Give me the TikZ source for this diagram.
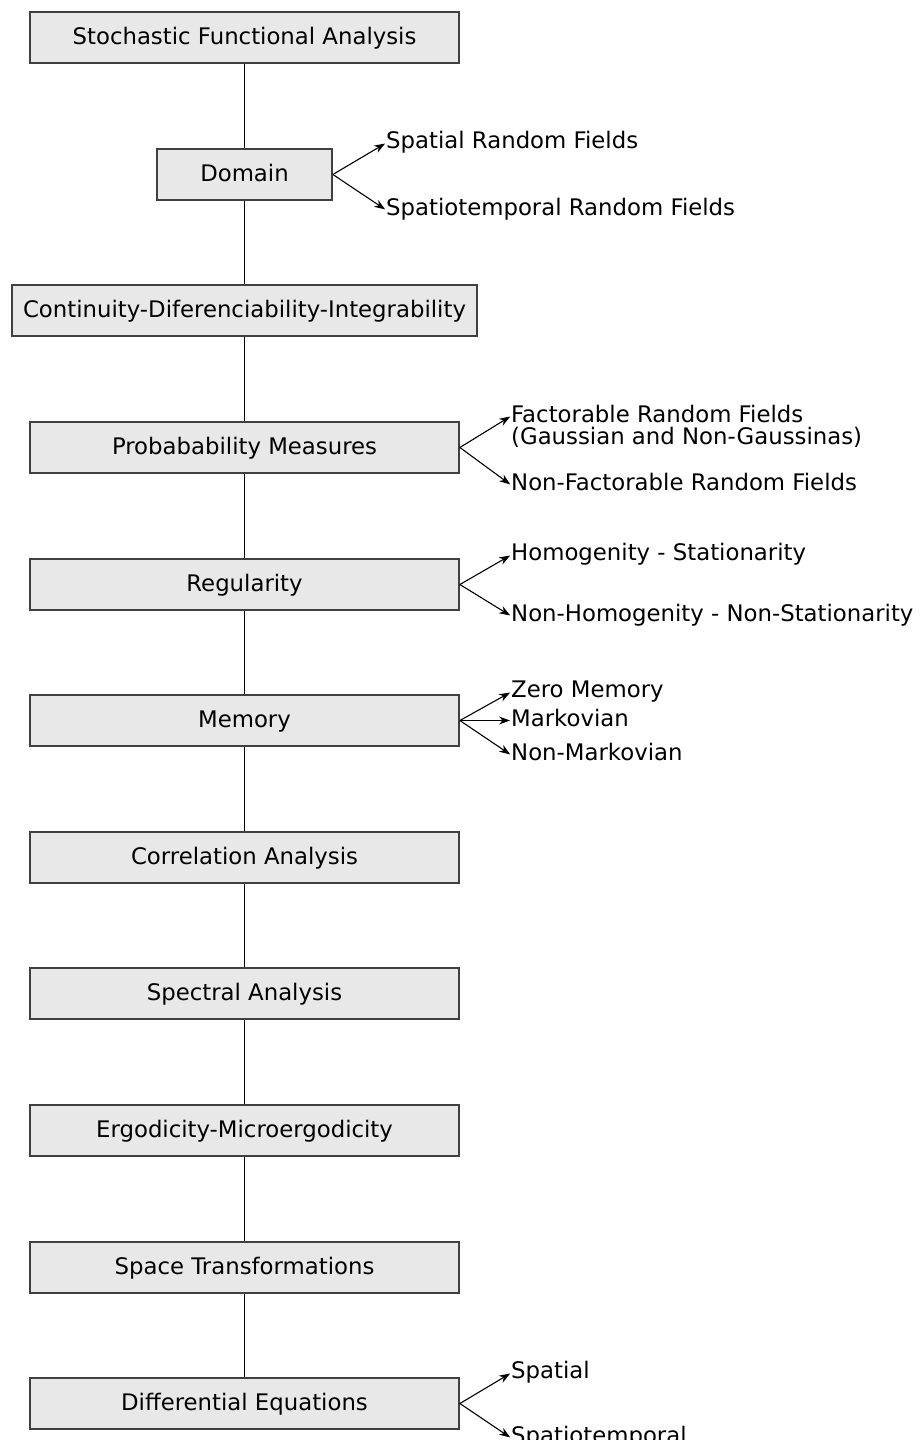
\documentclass[tikz,border=0pt]{standalone}
\usepackage{fontspec}
\setmainfont{DejaVu Sans}
\usetikzlibrary{arrows.meta,calc}
\begin{document}
\begin{tikzpicture}[x=1pt,y=-1pt,
  every node/.style={font=\fontsize{22.8}{22}\selectfont},
  topic/.style={draw=black!75, line width=1.8pt, fill=black!9,
    minimum height=51pt, minimum width=429pt, inner sep=0pt,
    text height=17pt, text depth=3pt},
  leaf/.style={anchor=west, inner sep=0pt, text height=16pt, text depth=5pt},
  spine/.style={line width=1.1pt, black},
  branch/.style={line width=1.1pt, -{Stealth[length=11pt,width=8pt]}, shorten >=1pt},
]
\useasboundingbox (0,0) rectangle (922,1440);
\clip (0,0) rectangle (922,1440);

% main chain of topics
\node[topic] (sfa) at (244.5,37.5) {Stochastic Functional Analysis};
\node[topic, minimum width=175pt] (dom) at (244.5,174.5) {Domain};
\node[topic, minimum width=465pt] (cdi) at (244.5,310.5) {Continuity-Diferenciability-Integrability};
\node[topic] (pm)  at (244.5,447.5)  {Probabability Measures};
\node[topic] (reg) at (244.5,584.5)  {Regularity};
\node[topic] (mem) at (244.5,720.5)  {Memory};
\node[topic] (cor) at (244.5,857.5)  {Correlation Analysis};
\node[topic] (spe) at (244.5,993.5)  {Spectral Analysis};
\node[topic] (erg) at (244.5,1130.5) {Ergodicity-Microergodicity};
\node[topic] (spt) at (244.5,1267.5) {Space Transformations};
\node[topic] (deq) at (244.5,1403.5) {Differential Equations};

\foreach \a/\b in {sfa/dom, dom/cdi, cdi/pm, pm/reg, reg/mem, mem/cor, cor/spe, spe/erg, erg/spt, spt/deq}
  \draw[spine] (\a.south) -- (\b.north);

% branches
\node[leaf] (dom1) at (386,143) {Spatial Random Fields};
\node[leaf] (dom2) at (386,210) {Spatiotemporal Random Fields};
\draw[branch] (dom.east) -- (dom1.west);
\draw[branch] (dom.east) -- (dom2.west);

\node[anchor=north west, align=left, inner sep=0pt] (pm1) at (511,405)
  {Factorable Random Fields\\(Gaussian and Non-Gaussinas)};
\node[leaf] (pm2) at (511,485) {Non-Factorable Random Fields};
\draw[branch] (pm.east) -- ($(pm1.north west)+(0,11)$);
\draw[branch] (pm.east) -- (pm2.west);

\node[leaf] (reg1) at (511,555) {Homogenity - Stationarity};
\node[leaf] (reg2) at (511,616) {Non-Homogenity - Non-Stationarity};
\draw[branch] (reg.east) -- (reg1.west);
\draw[branch] (reg.east) -- (reg2.west);

\node[leaf] (mem1) at (511,692) {Zero Memory};
\node[leaf] (mem2) at (511,720.5) {Markovian};
\node[leaf] (mem3) at (511,755) {Non-Markovian};
\draw[branch] (mem.east) -- (mem1.west);
\draw[branch] (mem.east) -- (mem2.west);
\draw[branch] (mem.east) -- (mem3.west);

\node[leaf] (deq1) at (511,1373) {Spatial};
\node[leaf] (deq2) at (511,1438) {Spatiotemporal};
\draw[branch] (deq.east) -- (deq1.west);
\draw[branch] (deq.east) -- (deq2.west);
\end{tikzpicture}
\end{document}
